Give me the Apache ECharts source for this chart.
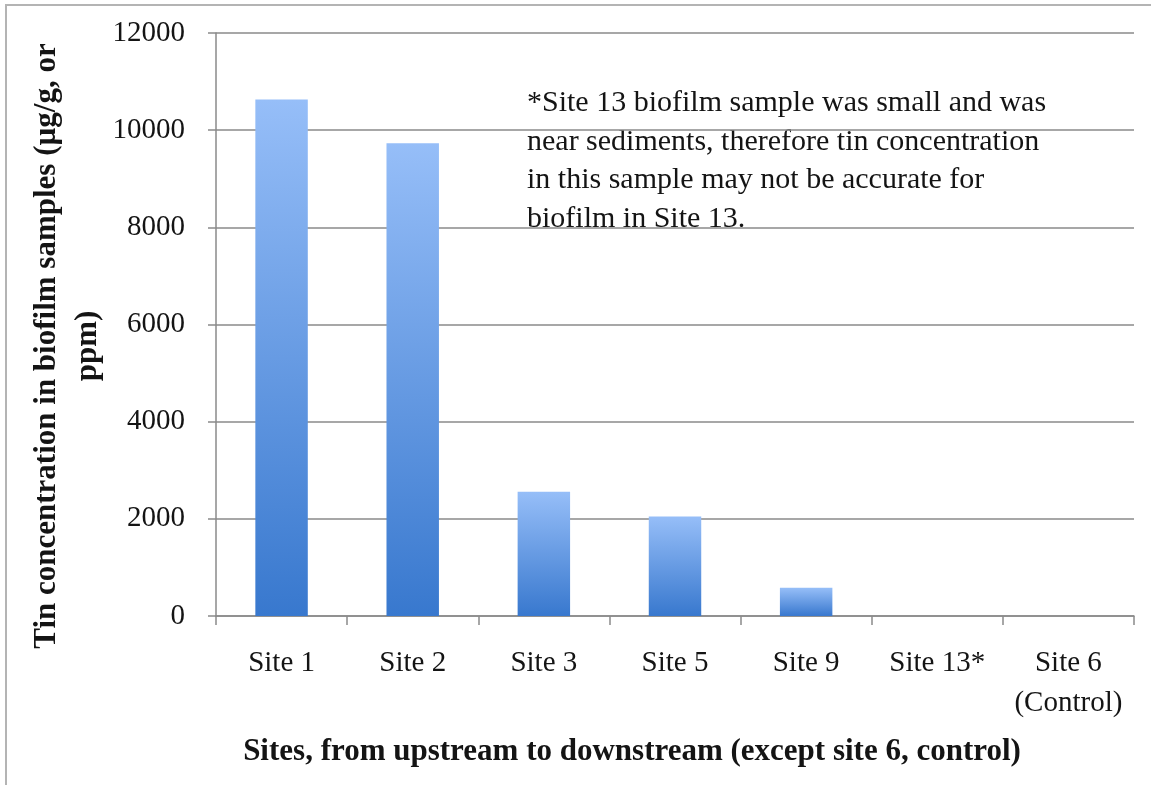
<!DOCTYPE html>
<html>
<head>
<meta charset="utf-8">
<title>Tin concentration in biofilm samples</title>
<script src="https://cdn.jsdelivr.net/npm/echarts@6/dist/echarts.min.js"></script>
<style>
  html, body { margin: 0; padding: 0; background: #fff; }
  #chart { width: 1151px; height: 785px; }
</style>
</head>
<body>
<div id="chart"></div>
<script>
// Sampling sites, upstream to downstream (Site 6 is the control)
const sites = ['Site 1', 'Site 2', 'Site 3', 'Site 5', 'Site 9', 'Site 13*', 'Site 6\n(Control)'];
// Tin concentration in biofilm, µg/g (ppm)
const tinPpm = [10630, 9730, 2560, 2050, 580, 0, 0];
// Value axis range
const yMin = 0;
const yMax = 12000;
const yStep = 2000;

const serif = "'Liberation Serif', 'Times New Roman', Times, serif";
const axisGrey = '#8a8a8a';

const chart = echarts.init(document.getElementById('chart'));

chart.setOption({
  backgroundColor: '#ffffff',
  animation: false,
  grid: { left: 216, right: 17, top: 33, bottom: 169, containLabel: false },
  xAxis: {
    type: 'category',
    data: sites,
    axisLine: { show: true, lineStyle: { color: axisGrey, width: 1.5 } },
    axisTick: { show: true, length: 9, lineStyle: { color: axisGrey, width: 1.5 } },
    axisLabel: {
      color: '#141414', fontFamily: serif, fontSize: 29,
      lineHeight: 40, margin: 27, interval: 0
    },
    splitLine: { show: false }
  },
  yAxis: {
    type: 'value',
    min: yMin, max: yMax, interval: yStep,
    axisLine: { show: true, lineStyle: { color: axisGrey, width: 1.5 } },
    axisTick: { show: true, length: 8, lineStyle: { color: axisGrey, width: 1.5 } },
    axisLabel: {
      color: '#141414', fontFamily: serif, fontSize: 29, margin: 31,
      formatter: v => String(v)
    },
    splitLine: { show: true, lineStyle: { color: axisGrey, width: 1.5 } }
  },
  series: [{
    type: 'bar',
    data: tinPpm,
    barWidth: '40%',
    itemStyle: {
      color: new echarts.graphic.LinearGradient(0, 0, 0, 1, [
        { offset: 0, color: '#96bef8' },
        { offset: 1, color: '#3878ce' }
      ])
    }
  }],
  graphic: [
    {
      // outer frame of the chart area
      type: 'rect', silent: true, z: -1,
      shape: { x: 6, y: 5, width: 1160, height: 800 },
      style: { fill: 'none', stroke: '#b4b4b4', lineWidth: 2 }
    },
    {
      type: 'text', silent: true,
      x: 67, y: 346, rotation: Math.PI / 2,
      style: {
        text: 'Tin concentration in biofilm samples (\u00b5g/g, or\nppm)',
        fontFamily: serif, fontSize: 31, fontWeight: 'bold', fill: '#141414',
        align: 'center', verticalAlign: 'middle', lineHeight: 41
      }
    },
    {
      type: 'text', silent: true,
      x: 632, y: 752,
      style: {
        text: 'Sites, from upstream to downstream (except site 6, control)',
        fontFamily: serif, fontSize: 31, fontWeight: 'bold', fill: '#141414',
        align: 'center', verticalAlign: 'middle'
      }
    },
    {
      type: 'text', silent: true,
      x: 527, y: 84,
      style: {
        text: '*Site 13 biofilm sample was small and was\nnear sediments, therefore tin concentration\nin this sample may not be accurate for\nbiofilm in Site 13.',
        fontFamily: serif, fontSize: 30, fill: '#141414',
        align: 'left', verticalAlign: 'top', lineHeight: 38.5
      }
    }
  ]
});
</script>
</body>
</html>
